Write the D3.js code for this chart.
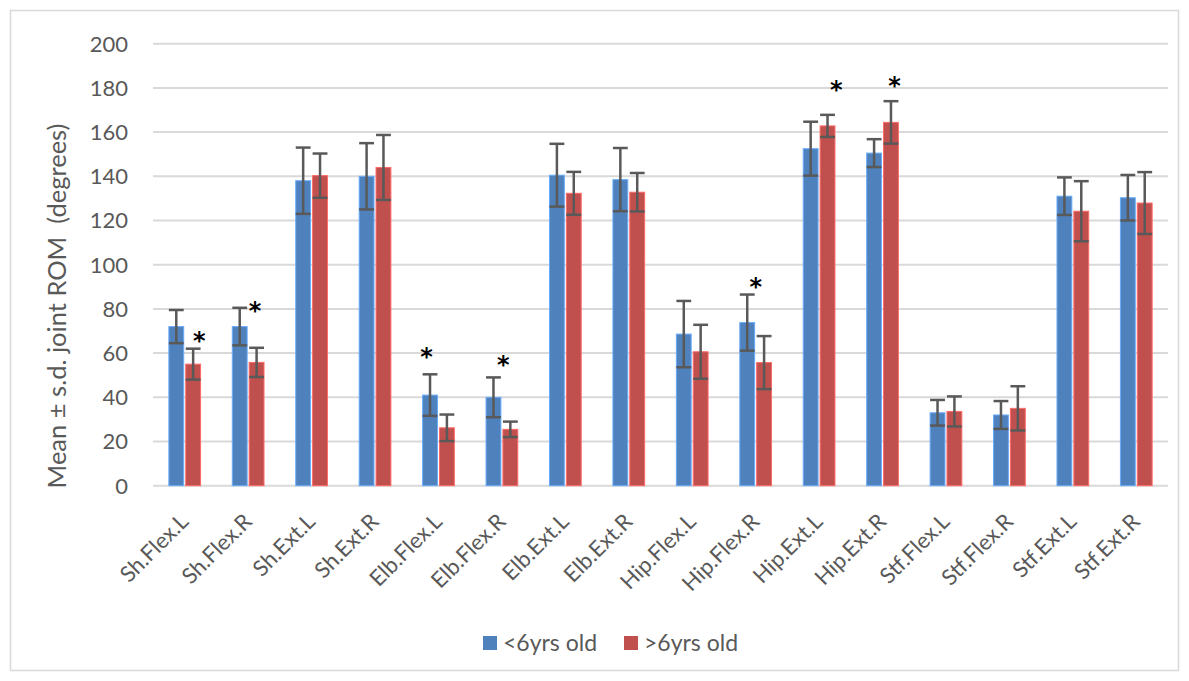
<!DOCTYPE html>
<html>
<head>
<meta charset="utf-8">
<script src="https://cdn.jsdelivr.net/npm/d3@7"></script>
<style>
  html, body { margin: 0; padding: 0; background: #fff; }
  svg { display: block; font-family: Lato, "Open Sans", sans-serif; }
</style>
</head>
<body>
<svg id="chart" width="1189" height="681"></svg>
<script>
// joint categories
const categories = ['Sh.Flex.L', 'Sh.Flex.R', 'Sh.Ext.L', 'Sh.Ext.R', 'Elb.Flex.L', 'Elb.Flex.R',
  'Elb.Ext.L', 'Elb.Ext.R', 'Hip.Flex.L', 'Hip.Flex.R', 'Hip.Ext.L', 'Hip.Ext.R',
  'Stf.Flex.L', 'Stf.Flex.R', 'Stf.Ext.L', 'Stf.Ext.R'];

// <6yrs old
const meanUnder6 = [72, 72, 138, 140, 41, 40, 140.5, 138.5, 68.6, 73.8, 152.5, 150.5, 33, 32, 131, 130.3];
const sdUnder6 = [7.5, 8.5, 15, 15, 9.4, 9, 14.2, 14.3, 15, 12.7, 12.2, 6.3, 5.8, 6.3, 8.5, 10.3];

// >6yrs old
const meanOver6 = [55, 55.8, 140.3, 144, 26.2, 25.5, 132.3, 132.8, 60.6, 55.7, 162.8, 164.4, 33.6, 35, 124.2, 127.9];
const sdOver6 = [7, 6.6, 10, 14.7, 6, 3.5, 9.7, 8.7, 12.2, 12, 5, 9.6, 6.8, 10, 13.6, 14];

const seriesNames = ['<6yrs old', '>6yrs old'];
const yTicks = [0, 20, 40, 60, 80, 100, 120, 140, 160, 180, 200];

// significance markers: category, height (degrees), shift across the band
const starCats = ['Sh.Flex.L', 'Sh.Flex.R', 'Elb.Flex.L', 'Elb.Flex.R', 'Hip.Flex.R', 'Hip.Ext.L', 'Hip.Ext.R'];
const starValues = [67.9, 81.8, 60.6, 57.2, 92.3, 181.8, 183.3];
const starShift = [0.23, 0.11, -0.19, 0.02, 0, 0.27, 0.19];

const colors = ['#4f81bd', '#c0504d'];
const textColor = '#595959';
const gridColor = '#d9d9d9';

const svg = d3.select('#chart');

// outer frame
svg.append('rect')
  .attr('x', 10.5).attr('y', 10.5)
  .attr('width', 1168).attr('height', 660)
  .attr('fill', '#fff')
  .attr('stroke', gridColor)
  .attr('stroke-width', 1.5);

const plot = { left: 153, right: 1168, top: 43.7, bottom: 485.7 };

const x0 = d3.scaleBand()
  .domain(categories)
  .range([plot.left, plot.right])
  .paddingInner(0.5)
  .paddingOuter(0.25);

const x1 = d3.scaleBand()
  .domain([0, 1])
  .range([0, x0.bandwidth()])
  .paddingInner(0.12);

const y = d3.scaleLinear()
  .domain([0, 200])
  .range([plot.bottom, plot.top]);

// gridlines
svg.append('g')
  .selectAll('line')
  .data(yTicks)
  .join('line')
  .attr('x1', plot.left)
  .attr('x2', plot.right)
  .attr('y1', d => y(d))
  .attr('y2', d => y(d))
  .attr('stroke', gridColor)
  .attr('stroke-width', 2);

// y tick labels
svg.append('g')
  .selectAll('text')
  .data(yTicks)
  .join('text')
  .attr('x', 128)
  .attr('y', d => y(d))
  .attr('dy', '0.36em')
  .attr('text-anchor', 'end')
  .attr('fill', textColor)
  .attr('font-size', 22)
  .text(d => d);

// y axis title
svg.append('text')
  .attr('transform', 'translate(66, 306) rotate(-90)')
  .attr('text-anchor', 'middle')
  .attr('fill', textColor)
  .attr('font-size', 25.5)
  .style('white-space', 'pre')
  .text('Mean ± s.d. joint ROM  (degrees)');

// bars + error bars
const rows = categories.map((c, i) => [
  { cat: c, s: 0, mean: meanUnder6[i], sd: sdUnder6[i] },
  { cat: c, s: 1, mean: meanOver6[i], sd: sdOver6[i] }
]);

const groups = svg.append('g')
  .selectAll('g')
  .data(rows)
  .join('g')
  .attr('transform', d => `translate(${x0(d[0].cat)},0)`);

groups.selectAll('rect')
  .data(d => d)
  .join('rect')
  .attr('x', d => x1(d.s))
  .attr('y', d => y(d.mean))
  .attr('width', x1.bandwidth())
  .attr('height', d => y(0) - y(d.mean))
  .attr('fill', d => colors[d.s])
  .attr('stroke', d => d3.color(colors[d.s]).brighter(0.8))
  .attr('stroke-width', 1);

const err = groups.selectAll('g.err')
  .data(d => d)
  .join('g')
  .attr('class', 'err')
  .attr('stroke', textColor)
  .attr('stroke-width', 2.5);

err.append('line')
  .attr('x1', d => x1(d.s) + x1.bandwidth() / 2)
  .attr('x2', d => x1(d.s) + x1.bandwidth() / 2)
  .attr('y1', d => y(d.mean + d.sd))
  .attr('y2', d => y(d.mean - d.sd));

err.selectAll('line.cap')
  .data(d => [d.mean + d.sd, d.mean - d.sd].map(v => ({ v, s: d.s })))
  .join('line')
  .attr('class', 'cap')
  .attr('x1', d => x1(d.s))
  .attr('x2', d => x1(d.s) + x1.bandwidth())
  .attr('y1', d => y(d.v))
  .attr('y2', d => y(d.v));

// x labels, rotated
svg.append('g')
  .selectAll('text')
  .data(categories)
  .join('text')
  .attr('transform', d => `translate(${x0(d) + x0.bandwidth() / 2 + 5}, 523) rotate(-45)`)
  .attr('text-anchor', 'end')
  .attr('fill', textColor)
  .attr('font-size', 22)
  .text(d => d);

// significance asterisks
const starSize = 24;
svg.append('g')
  .selectAll('text')
  .data(starCats)
  .join('text')
  .attr('x', (d, i) => x0(d) + x0.bandwidth() / 2 + starShift[i] * x0.step())
  .attr('y', (d, i) => y(starValues[i]) + starSize * 0.57)
  .attr('text-anchor', 'middle')
  .attr('font-family', 'DejaVu Sans')
  .attr('font-weight', 'bold')
  .attr('font-size', starSize)
  .attr('fill', '#000')
  .text('*');

// legend
const legend = svg.append('g')
  .attr('transform', 'translate(483, 643)');

const legendItems = legend.selectAll('g')
  .data(seriesNames)
  .join('g')
  .attr('transform', (d, i) => `translate(${i * 141}, 0)`);

legendItems.append('rect')
  .attr('x', 0).attr('y', -7)
  .attr('width', 14).attr('height', 14)
  .attr('fill', (d, i) => colors[i]);

legendItems.append('text')
  .attr('x', 20)
  .attr('dy', '0.36em')
  .attr('fill', textColor)
  .attr('font-size', 23)
  .text(d => d);
</script>
</body>
</html>
